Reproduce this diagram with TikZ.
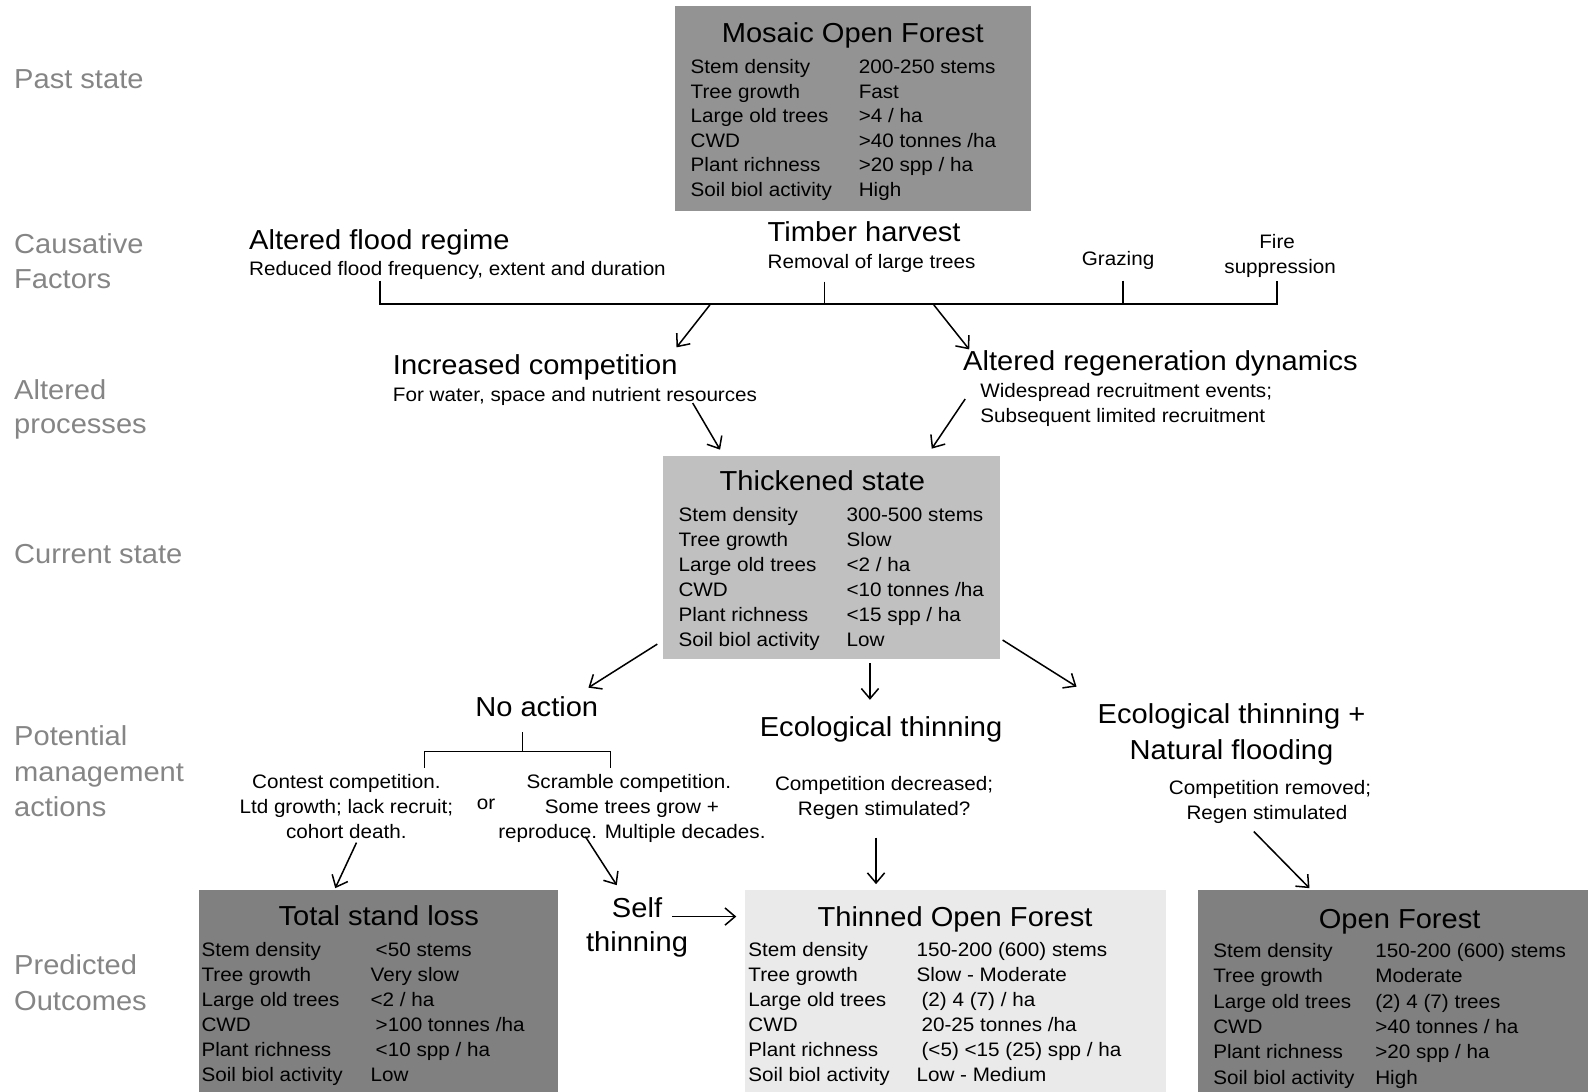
\documentclass[tikz,border=0pt]{standalone}
\usepackage{fontspec}
\setmainfont[FakeStretch=1.06]{Liberation Sans}
\usetikzlibrary{arrows.meta}
\definecolor{labgray}{RGB}{133,133,133}
\definecolor{boxA}{RGB}{147,147,147}
\definecolor{boxB}{RGB}{192,192,192}
\definecolor{boxC}{RGB}{128,128,128}
\definecolor{boxD}{RGB}{234,234,234}
\newcommand\bigf{\fontsize{27.1}{34.5}\selectfont}
\newcommand\smf{\fontsize{19.25}{24.6}\selectfont}
\newcommand\tbl[3]{\fontsize{19.25}{#2}\selectfont\begin{tabular}[t]{@{}p{#1}@{}l@{}}#3\end{tabular}}
\begin{document}
\begin{tikzpicture}[x=1pt,y=-1pt,
 every node/.style={inner sep=0pt, outer sep=0pt},
 side/.style={font=\bigf, text=labgray, anchor=base west},
 bigw/.style={font=\bigf, anchor=base west},
 bigc/.style={font=\bigf, anchor=base},
 smw/.style={font=\smf, anchor=base west},
 smc/.style={font=\smf, anchor=base},
 panel/.style={anchor=north west, draw=none},
 rowsn/.style={anchor=base west},
 conn/.style={line width=1.5pt},
 arr/.style={conn, -{Straight Barb[length=10pt,width=17pt,line width=1.5pt]}}
]
\useasboundingbox (0,0) rectangle (1568,1078);

% ---- side labels
\node[side] (l1) at (14,87.5) {Past state};
\node[side] (l2a) at (14,250.5) {Causative};
\node[side] (l2b) at (14,284.5) {Factors};
\node[side] (l3a) at (14,394.5) {Altered};
\node[side] (l3b) at (14,428.5) {processes};
\node[side] (l4) at (14,556.5) {Current state};
\node[side] (l5a) at (14,736.5) {Potential};
\node[side] (l5b) at (14,771.5) {management};
\node[side] (l5c) at (14,806.5) {actions};
\node[side] (l6a) at (14,962.5) {Predicted};
\node[side] (l6b) at (14,997.5) {Outcomes};

% ---- Mosaic Open Forest
\node[panel, fill=boxA, minimum width=352pt, minimum height=202pt] (mosaic) at (666,6) {};
\node[bigc] (mosaicT) at (842,41.5) {Mosaic Open Forest};
\node[rowsn] (mosaicR) at (682,72.5) {\tbl{166pt}{24.3pt}{Stem density & 200-250 stems\\ Tree growth & Fast\\ Large old trees & >4 / ha\\ CWD & >40 tonnes /ha\\ Plant richness & >20 spp / ha\\ Soil biol activity & High}};

% ---- Causative factors
\node[bigw] (flood) at (246,246.5) {Altered flood regime};
\node[smw] (floodS) at (246,272) {Reduced flood frequency, extent and duration};
\node[bigw] (timber) at (758,238.5) {Timber harvest};
\node[smw] (timberS) at (758,265.5) {Removal of large trees};
\node[smc] (graz) at (1104,262.5) {Grazing};
\node[smc] (fire1) at (1261,245.5) {Fire};
\node[smc] (fire2) at (1264,270.5) {suppression};

\coordinate (barL) at (375,300);
\coordinate (barR) at (1261,300);
\coordinate (tk1) at (375,277);
\coordinate (tk2t) at (814,278);
\coordinate (tk2b) at (814,300);
\coordinate (tk3t) at (1109,277);
\coordinate (tk3b) at (1109,300);
\coordinate (tk4) at (1261,277);
\draw[conn] (tk1) -- (barL) -- (barR) -- (tk4);
\draw[conn] (tk2t) -- (tk2b);
\draw[conn] (tk3t) -- (tk3b);

% ---- Altered processes
\node[bigw] (incr) at (388,369.5) {Increased competition};
\node[smw] (incrS) at (388,396.5) {For water, space and nutrient resources};
\node[bigw] (regen) at (951,365.5) {Altered regeneration dynamics};
\node[smw] (regenS1) at (968,392.5) {Widespread recruitment events;};
\node[smw] (regenS2) at (968,417.5) {Subsequent limited recruitment};

\coordinate (a1s) at (701,301); \coordinate (a1e) at (668,343);
\coordinate (a2s) at (922,301); \coordinate (a2e) at (957,345);
\draw[arr] (a1s) -- (a1e);
\draw[arr] (a2s) -- (a2e);
\coordinate (a3s) at (684,398); \coordinate (a3e) at (711,444);
\coordinate (a4s) at (953,394); \coordinate (a4e) at (920,443);
\draw[arr] (a3s) -- (a3e);
\draw[arr] (a4s) -- (a4e);

% ---- Thickened state
\node[panel, fill=boxB, minimum width=332pt, minimum height=201pt] (thick) at (655,450) {};
\node[bigc] (thickT) at (812,484.5) {Thickened state};
\node[rowsn] (thickR) at (670,514.5) {\tbl{166pt}{24.8pt}{Stem density & 300-500 stems\\ Tree growth & Slow\\ Large old trees & <2 / ha\\ CWD & <10 tonnes /ha\\ Plant richness & <15 spp / ha\\ Soil biol activity & Low}};

\coordinate (a5s) at (649,636); \coordinate (a5e) at (581,679);
\coordinate (a6s) at (859,655); \coordinate (a6e) at (859,691);
\coordinate (a7s) at (990,632); \coordinate (a7e) at (1063,678);
\draw[arr] (a5s) -- (a5e);
\draw[arr] (a6s) -- (a6e);
\draw[arr] (a7s) -- (a7e);

% ---- Management actions
\node[bigc] (noact) at (530,707.5) {No action};
\coordinate (brT) at (516,723);
\coordinate (brM) at (516,742);
\coordinate (brL) at (419,742);
\coordinate (brR) at (603,742);
\coordinate (brLb) at (419,758);
\coordinate (brRb) at (603,758);
\draw[conn] (brT) -- (brM);
\draw[conn] (brLb) -- (brL) -- (brR) -- (brRb);

\node[smc] (con1) at (342,778.5) {Contest competition.};
\node[smc] (con2) at (342,803.5) {Ltd growth; lack recruit;};
\node[smc] (con3) at (342,827.5) {cohort death.};
\node[smc] (orr) at (480,799.5) {or};
\node[smc] (scr1) at (621,778.5) {Scramble competition.};
\node[smc] (scr2) at (624,803.5) {Some trees grow +};
\node[smc] (scr3) at (624,827.5) {reproduce. Multiple decades.};

\coordinate (a8s) at (352,832); \coordinate (a8e) at (331,877);
\coordinate (a9s) at (578,826); \coordinate (a9e) at (609,874);
\draw[arr] (a8s) -- (a8e);
\draw[arr] (a9s) -- (a9e);

\node[bigc] (ecot) at (870,727.5) {Ecological thinning};
\node[smc] (ecot1) at (873,780.5) {Competition decreased;};
\node[smc] (ecot2) at (873,805.5) {Regen stimulated?};
\coordinate (a10s) at (865,827); \coordinate (a10e) at (865,873);
\draw[arr] (a10s) -- (a10e);

\node[bigc] (ecof1) at (1216,714.5) {Ecological thinning +};
\node[bigc] (ecof2) at (1216,749.5) {Natural flooding};
\node[smc] (ecof3) at (1254,784.5) {Competition removed;};
\node[smc] (ecof4) at (1251,809.5) {Regen stimulated};
\coordinate (a11s) at (1238,821); \coordinate (a11e) at (1293,877);
\draw[arr] (a11s) -- (a11e);

\node[bigc] (self1) at (629,905.5) {Self};
\node[bigc] (self2) at (629,939.5) {thinning};
\coordinate (a12s) at (664,905); \coordinate (a12e) at (727,905);
\draw[arr] (a12s) -- (a12e);

% ---- Predicted outcomes
\node[panel, fill=boxC, minimum width=355pt, minimum height=199pt] (loss) at (196,879) {};
\node[bigc] (lossT) at (374,913.5) {Total stand loss};
\node[rowsn] (lossR) at (199,944.5) {\tbl{167pt}{24.6pt}{Stem density & \hspace{5pt}<50 stems\\ Tree growth & Very slow\\ Large old trees & <2 / ha\\ CWD & \hspace{5pt}>100 tonnes /ha\\ Plant richness & \hspace{5pt}<10 spp / ha\\ Soil biol activity & Low}};

\node[panel, fill=boxD, minimum width=415pt, minimum height=199pt] (thin) at (736,879) {};
\node[bigc] (thinT) at (943,914.5) {Thinned Open Forest};
\node[rowsn] (thinR) at (739,944.5) {\tbl{166pt}{24.6pt}{Stem density & 150-200 (600) stems\\ Tree growth & Slow - Moderate\\ Large old trees & \hspace{5pt}(2) 4 (7) / ha\\ CWD & \hspace{5pt}20-25 tonnes /ha\\ Plant richness & \hspace{5pt}(<5) <15 (25) spp / ha\\ Soil biol activity & Low - Medium}};

\node[panel, fill=boxC, minimum width=385pt, minimum height=199pt] (open) at (1183,879) {};
\node[bigc] (openT) at (1382,916.5) {Open Forest};
\node[rowsn] (openR) at (1198,945.5) {\tbl{160pt}{25pt}{Stem density & 150-200 (600) stems\\ Tree growth & Moderate\\ Large old trees & (2) 4 (7) trees\\ CWD & >40 tonnes / ha\\ Plant richness & >20 spp / ha\\ Soil biol activity & High}};
\end{tikzpicture}
\end{document}
